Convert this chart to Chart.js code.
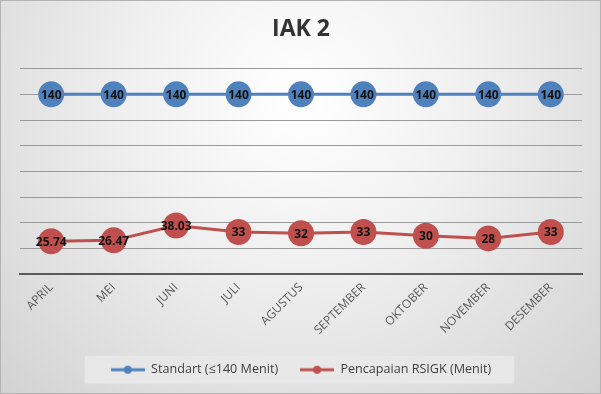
<!DOCTYPE html>
<html>
<head>
<meta charset="utf-8">
<script src="https://cdn.jsdelivr.net/npm/chart.js@4.4.1/dist/chart.umd.min.js"></script>
<style>
  html, body { margin: 0; padding: 0; }
  #wrap {
    position: relative;
    width: 599px;
    height: 392px;
    border: 1px solid #b3b3b3;
    background: radial-gradient(ellipse at 50% 25%, #ffffff 0%, #f0f0f0 40%, #d2d2d2 100%);
  }
</style>
</head>
<body>
<div id="wrap"><canvas id="chart" width="599" height="392"></canvas></div>
<script>
const months = ['APRIL', 'MEI', 'JUNI', 'JULI', 'AGUSTUS', 'SEPTEMBER', 'OKTOBER', 'NOVEMBER', 'DESEMBER'];
const standart = [140, 140, 140, 140, 140, 140, 140, 140, 140];
const pencapaian = [25.74, 26.47, 38.03, 33, 32, 33, 30, 28, 33];
const seriesNames = ['Standart (\u2264140 Menit)', 'Pencapaian RSIGK (Menit)'];

const BLUE = '#4f81bd';
const RED = '#c0504d';
const FONT = "'Open Sans', 'Liberation Sans', sans-serif";

// small line+marker icon for the legend
function legendIcon(color) {
  const c = document.createElement('canvas');
  c.width = 34;
  c.height = 10;
  const g = c.getContext('2d');
  g.strokeStyle = color;
  g.lineWidth = 3;
  g.beginPath();
  g.moveTo(0, 5);
  g.lineTo(34, 5);
  g.stroke();
  g.fillStyle = color;
  g.beginPath();
  g.arc(17, 5, 4, 0, Math.PI * 2);
  g.fill();
  return c;
}

const valueLabels = {
  id: 'valueLabels',
  afterDatasetsDraw(chart) {
    const { ctx } = chart;
    ctx.save();
    ctx.font = `bold 12px ${FONT}`;
    ctx.fillStyle = '#111111';
    ctx.textAlign = 'center';
    ctx.textBaseline = 'middle';
    chart.data.datasets.forEach((ds, i) => {
      chart.getDatasetMeta(i).data.forEach((pt, j) => {
        ctx.fillText(String(ds.data[j]), pt.x, pt.y + 1);
      });
    });
    ctx.restore();
  },
};

const legendBox = {
  id: 'legendBox',
  beforeDraw(chart) {
    const boxes = chart.legend && chart.legend.legendHitBoxes;
    if (!boxes || !boxes.length) return;
    const first = boxes[0];
    const last = boxes[boxes.length - 1];
    const { ctx } = chart;
    ctx.save();
    ctx.fillStyle = 'rgba(232,232,232,0.9)';
    const cy = first.top + first.height / 2;
    ctx.fillRect(first.left - 26, cy - 14, last.left + last.width - first.left + 49, 28);
    ctx.restore();
  },
};

const ctx = document.getElementById('chart').getContext('2d');
new Chart(ctx, {
  type: 'line',
  data: {
    labels: months,
    datasets: [
      {
        label: seriesNames[0],
        data: standart,
        borderColor: BLUE,
        backgroundColor: BLUE,
        borderWidth: 3,
        pointRadius: 13,
        pointHoverRadius: 13,
        pointBorderWidth: 0,
        pointBackgroundColor: BLUE,
        fill: false,
        tension: 0,
      },
      {
        label: seriesNames[1],
        data: pencapaian,
        borderColor: RED,
        backgroundColor: RED,
        borderWidth: 3,
        pointRadius: 13,
        pointHoverRadius: 13,
        pointBorderWidth: 0,
        pointBackgroundColor: RED,
        fill: false,
        tension: 0,
      },
    ],
  },
  options: {
    responsive: false,
    animation: false,
    layout: { padding: { left: 19, right: 18, top: 3, bottom: 7 } },
    plugins: {
      title: {
        display: true,
        text: 'IAK 2',
        color: '#333333',
        font: { family: FONT, size: 23, weight: 'bold' },
        padding: { top: 12, bottom: 25 },
      },
      legend: {
        position: 'bottom',
        labels: {
          usePointStyle: true,
          pointStyleWidth: 34,
          color: '#404040',
          font: { family: FONT, size: 12.6 },
          padding: 22,
          generateLabels(chart) {
            const items = Chart.defaults.plugins.legend.labels.generateLabels(chart);
            return items.map((it, i) => ({ ...it, pointStyle: legendIcon(i === 0 ? BLUE : RED) }));
          },
        },
      },
      tooltip: { enabled: false },
    },
    scales: {
      x: {
        offset: true,
        grid: { display: false, drawTicks: false },
        border: { display: true, color: '#595959', width: 2 },
        ticks: {
          color: '#595959',
          font: { family: FONT, size: 12 },
          minRotation: 45,
          maxRotation: 45,
          padding: 6,
          autoSkip: false,
        },
        afterFit(scale) { scale.height = 67; },
      },
      y: {
        min: 0,
        max: 160,
        ticks: { display: false, stepSize: 20 },
        grid: { color: '#9a9a9a', lineWidth: 1, drawTicks: false },
        border: { display: false },
        afterFit(scale) { scale.width = 0; },
      },
    },
  },
  plugins: [legendBox, valueLabels],
});
</script>
</body>
</html>
